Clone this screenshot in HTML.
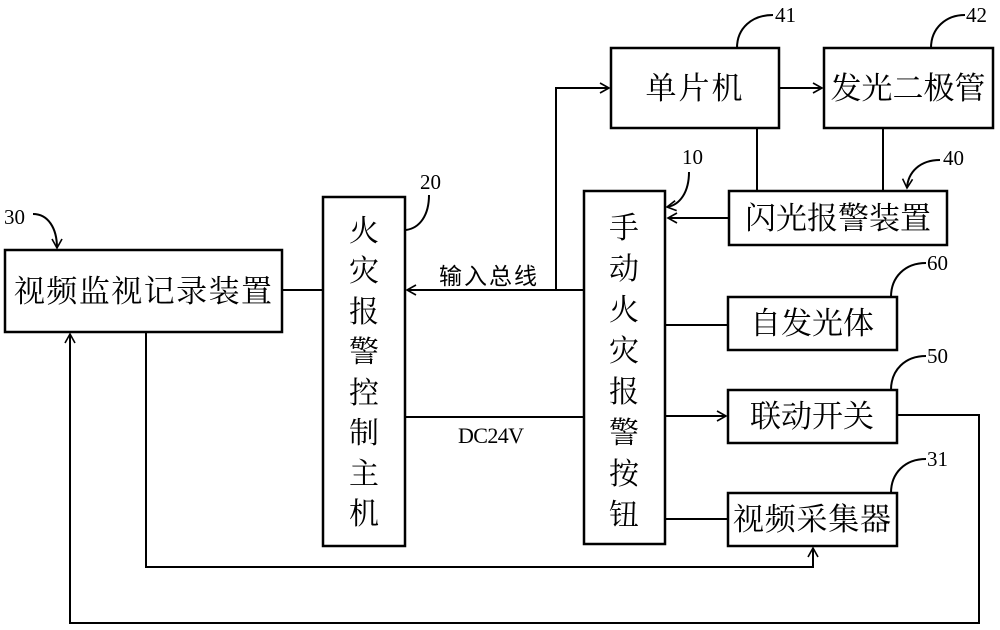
<!DOCTYPE html>
<html><head><meta charset="utf-8"><style>
html,body{margin:0;padding:0;background:#fff;}
svg{display:block;}
.b{fill:#fff;stroke:#000;stroke-width:2.5;}
.l{fill:none;stroke:#000;stroke-width:2;}
.t{font-family:"Liberation Serif","Noto Serif CJK SC","Noto Sans CJK SC",serif;font-size:31px;fill:#000;}
.v{font-family:"Liberation Serif","Noto Serif CJK SC","Noto Sans CJK SC",serif;font-size:30px;fill:#000;}
.n{font-family:"Liberation Serif",serif;font-size:21px;fill:#000;}
.s{font-family:"Liberation Sans","Noto Sans CJK SC",sans-serif;font-size:23px;fill:#000;}
</style></head><body>
<svg width="1000" height="630" viewBox="0 0 1000 630" xmlns="http://www.w3.org/2000/svg">
<defs><marker id="a" markerWidth="12" markerHeight="12" refX="10" refY="6" orient="auto" markerUnits="userSpaceOnUse"><path d="M1,1 L10,6 L1,11" fill="none" stroke="#000" stroke-width="1.6"/></marker></defs>
<line class="l" x1="282" y1="290" x2="323" y2="290"/>
<line class="l" x1="584" y1="290" x2="407" y2="290" marker-end="url(#a)"/>
<polyline class="l" points="556,290 556,88 609,88" marker-end="url(#a)"/>
<line class="l" x1="779" y1="88" x2="822" y2="88" marker-end="url(#a)"/>
<line class="l" x1="757" y1="128" x2="757" y2="191"/>
<line class="l" x1="883" y1="128" x2="883" y2="191"/>
<line class="l" x1="729" y1="218" x2="668" y2="218" marker-end="url(#a)"/>
<line class="l" x1="665" y1="325" x2="728" y2="325"/>
<line class="l" x1="665" y1="416" x2="726" y2="416" marker-end="url(#a)"/>
<line class="l" x1="665" y1="519" x2="728" y2="519"/>
<line class="l" x1="405" y1="417" x2="584" y2="417"/>
<polyline class="l" points="146,332 146,567 813,567 813,548" marker-end="url(#a)"/>
<polyline class="l" points="897,415 979,415 979,623 70,623 70,334" marker-end="url(#a)"/>
<rect class="b" x="5" y="250" width="277" height="82"/>
<text class="t" x="143" y="302" text-anchor="middle" textLength="258">视频监视记录装置</text>
<rect class="b" x="323" y="197" width="82" height="349"/>
<g class="v" text-anchor="middle">
<text x="364" y="241">火</text><text x="364" y="281">灾</text><text x="364" y="322">报</text><text x="364" y="362">警</text><text x="364" y="403">控</text><text x="364" y="443">制</text><text x="364" y="484">主</text><text x="364" y="524">机</text>
</g>
<rect class="b" x="584" y="191" width="81" height="353"/>
<g class="v" text-anchor="middle">
<text x="624" y="238">手</text><text x="624" y="279">动</text><text x="624" y="320">火</text><text x="624" y="361">灾</text><text x="624" y="402">报</text><text x="624" y="443">警</text><text x="624" y="484">按</text><text x="624" y="525">钮</text>
</g>
<rect class="b" x="611" y="48" width="168" height="80"/>
<text class="t" x="695" y="99" text-anchor="middle" letter-spacing="2">单片机</text>
<rect class="b" x="824" y="48" width="169" height="80"/>
<text class="t" x="908" y="99" text-anchor="middle" textLength="155">发光二极管</text>
<rect class="b" x="729" y="191" width="218" height="54"/>
<text class="t" x="838" y="229" text-anchor="middle" textLength="186">闪光报警装置</text>
<rect class="b" x="728" y="297" width="169" height="53"/>
<text class="t" x="812" y="334" text-anchor="middle" textLength="124">自发光体</text>
<rect class="b" x="728" y="390" width="169" height="53"/>
<text class="t" x="812" y="427" text-anchor="middle" textLength="124">联动开关</text>
<rect class="b" x="728" y="493" width="169" height="53"/>
<text class="t" x="812" y="530" text-anchor="middle" textLength="158">视频采集器</text>
<text class="s" x="439" y="284" textLength="98">输入总线</text>
<text class="n" x="458" y="443" textLength="66" style="font-size:22px">DC24V</text>
<path class="l" d="M737,48 C737,28 752,15 773,15"/><text class="n" x="775" y="22">41</text>
<path class="l" d="M931,48 C931,28 946,15 965,15"/><text class="n" x="966" y="22">42</text>
<path class="l" d="M689,172 C689,192 680,205 667,207" marker-end="url(#a)"/><text class="n" x="682" y="164">10</text>
<path class="l" d="M940,160 C920,160 908,172 907,188" marker-end="url(#a)"/><text class="n" x="943" y="165">40</text>
<path class="l" d="M429,195 C429,215 420,228 406,230"/><text class="n" x="420" y="189">20</text>
<path class="l" d="M33,214 C48,214 57,228 57,248" marker-end="url(#a)"/><text class="n" x="4" y="224">30</text>
<path class="l" d="M891,297 C891,277 905,263 926,263"/><text class="n" x="927" y="270">60</text>
<path class="l" d="M891,390 C891,370 905,356 926,356"/><text class="n" x="927" y="363">50</text>
<path class="l" d="M891,493 C891,473 905,459 926,459"/><text class="n" x="927" y="466">31</text>
</svg>
</body></html>
